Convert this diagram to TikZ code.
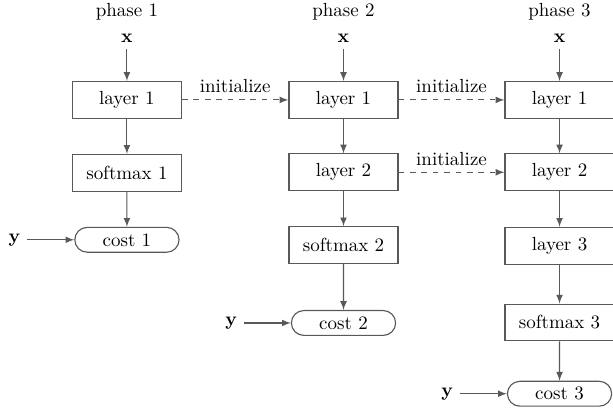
\documentclass[tikz,border=0pt]{standalone}
\usetikzlibrary{shapes.misc,positioning}

\begin{document}
\begin{tikzpicture}
      \tikzstyle{layerbox}=[rectangle,draw=black!65,line width=0.6pt,minimum width=2.02cm,minimum height=0.68cm]
      \tikzstyle{costnode}=[rounded rectangle,draw=black!65,line width=0.6pt,minimum width=2cm,minimum height=0.46cm,inner sep=1pt]
      \tikzstyle{arrow}=[draw=black!65,line width=0.6pt,-latex]
      \tikzstyle{initarrow}=[arrow,dashed]
      \useasboundingbox (0,0) rectangle (11.35,-7.57);
      % phase 1
      \node (ph1) at (2.35,-0.22) {phase 1};
      \node (x1) at (2.35,-0.70) {$\mathbf{x}$};
      \node[layerbox] (p1l1) at (2.35,-1.85) {layer 1};
      \node[layerbox] (p1s) at (2.35,-3.20) {softmax 1};
      \node[costnode] (p1c) at (2.35,-4.44) {cost 1};
      \node[left=0.87cm of p1c] (y1) {$\mathbf{y}$};
      % phase 2
      \node (ph2) at (6.36,-0.22) {phase 2};
      \node (x2) at (6.36,-0.70) {$\mathbf{x}$};
      \node[layerbox] (p2l1) at (6.36,-1.85) {layer 1};
      \node[layerbox] (p2l2) at (6.36,-3.19) {layer 2};
      \node[layerbox] (p2s) at (6.36,-4.54) {softmax 2};
      \node[costnode] (p2c) at (6.36,-5.98) {cost 2};
      \node[left=0.87cm of p2c] (y2) {$\mathbf{y}$};
      % phase 3
      \node (ph3) at (10.36,-0.22) {phase 3};
      \node (x3) at (10.36,-0.70) {$\mathbf{x}$};
      \node[layerbox] (p3l1) at (10.36,-1.85) {layer 1};
      \node[layerbox] (p3l2) at (10.36,-3.19) {layer 2};
      \node[layerbox] (p3l3) at (10.36,-4.55) {layer 3};
      \node[layerbox] (p3s) at (10.36,-5.97) {softmax 3};
      \node[costnode] (p3c) at (10.36,-7.29) {cost 3};
      \node[left=0.87cm of p3c] (y3) {$\mathbf{y}$};
      \draw[arrow] (x1)--(p1l1);
      \draw[arrow] (p1l1)--(p1s);
      \draw[arrow] (p1s)--(p1c);
      \draw[arrow] (y1)--(p1c);
      \draw[arrow] (x2)--(p2l1);
      \draw[arrow] (p2l1)--(p2l2);
      \draw[arrow] (p2l2)--(p2s);
      \draw[arrow] (p2s)--(p2c);
      \draw[arrow] (y2)--(p2c);
      \draw[arrow] (x3)--(p3l1);
      \draw[arrow] (p3l1)--(p3l2);
      \draw[arrow] (p3l2)--(p3l3);
      \draw[arrow] (p3l3)--(p3s);
      \draw[arrow] (p3s)--(p3c);
      \draw[arrow] (y3)--(p3c);
      \draw[initarrow] (p1l1)--node[above]{initialize}(p2l1);
      \draw[initarrow] (p2l1)--node[above]{initialize}(p3l1);
      \draw[initarrow] (p2l2)--node[above]{initialize}(p3l2);
    \end{tikzpicture}
\end{document}
